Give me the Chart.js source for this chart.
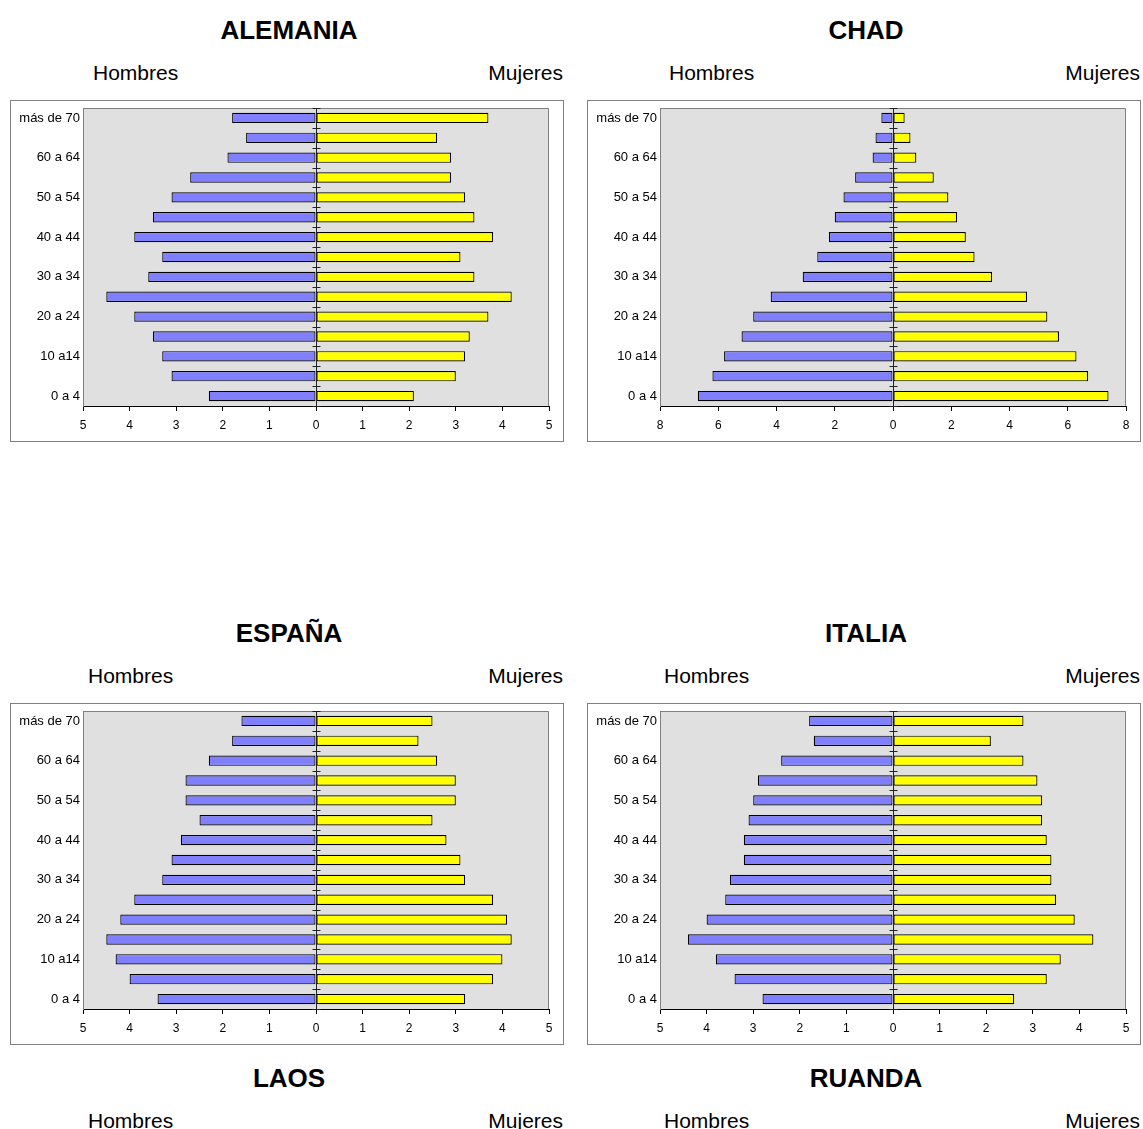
<!DOCTYPE html>
<html>
<head>
<meta charset="utf-8">
<script src="https://cdn.jsdelivr.net/npm/chart.js@4"></script>
<style>
    body { margin: 0; background: #fff; font-family: "Liberation Sans", Arial, sans-serif; }
    .page { position: relative; width: 1143px; height: 1129px; overflow: hidden; }
    .titulo { position: absolute; width: 554px; text-align: center; font-weight: bold; font-size: 26px; line-height: 30px; }
    .sexo { position: absolute; font-size: 21px; line-height: 24px; }
    .caja { position: absolute; width: 554px; height: 342px; box-sizing: border-box; border: 1px solid #808080; }
    .caja canvas { display: block; }
</style>
</head>
<body>
<div class="page" id="page"></div>
<script>
    // grupos de edad (de abajo hacia arriba)
    const grupos = ['0 a 4', '5 a 9', '10 a14', '15 a 19', '20 a 24', '25 a 29', '30 a 34', '35 a 39',
        '40 a 44', '45 a 49', '50 a 54', '55 a 59', '60 a 64', '65 a 69', 'más de 70'];

    const alemaniaHombres = [2.3, 3.1, 3.3, 3.5, 3.9, 4.5, 3.6, 3.3, 3.9, 3.5, 3.1, 2.7, 1.9, 1.5, 1.8];
    const alemaniaMujeres = [2.1, 3.0, 3.2, 3.3, 3.7, 4.2, 3.4, 3.1, 3.8, 3.4, 3.2, 2.9, 2.9, 2.6, 3.7];

    const chadHombres = [6.7, 6.2, 5.8, 5.2, 4.8, 4.2, 3.1, 2.6, 2.2, 2.0, 1.7, 1.3, 0.7, 0.6, 0.4];
    const chadMujeres = [7.4, 6.7, 6.3, 5.7, 5.3, 4.6, 3.4, 2.8, 2.5, 2.2, 1.9, 1.4, 0.8, 0.6, 0.4];

    const espanaHombres = [3.4, 4.0, 4.3, 4.5, 4.2, 3.9, 3.3, 3.1, 2.9, 2.5, 2.8, 2.8, 2.3, 1.8, 1.6];
    const espanaMujeres = [3.2, 3.8, 4.0, 4.2, 4.1, 3.8, 3.2, 3.1, 2.8, 2.5, 3.0, 3.0, 2.6, 2.2, 2.5];

    const italiaHombres = [2.8, 3.4, 3.8, 4.4, 4.0, 3.6, 3.5, 3.2, 3.2, 3.1, 3.0, 2.9, 2.4, 1.7, 1.8];
    const italiaMujeres = [2.6, 3.3, 3.6, 4.3, 3.9, 3.5, 3.4, 3.4, 3.3, 3.2, 3.2, 3.1, 2.8, 2.1, 2.8];

    // marcas del eje x (los valores negativos son los hombres)
    const marcas5 = [-5, -4, -3, -2, -1, 0, 1, 2, 3, 4, 5];
    const marcas8 = [-8, -6, -4, -2, 0, 2, 4, 6, 8];

    const paises = [
        { nombre: 'ALEMANIA', hombres: alemaniaHombres, mujeres: alemaniaMujeres, marcas: marcas5, x: 10, y: 0, h: 83 },
        { nombre: 'CHAD', hombres: chadHombres, mujeres: chadMujeres, marcas: marcas8, x: 587, y: 0, h: 82 },
        { nombre: 'ESPAÑA', hombres: espanaHombres, mujeres: espanaMujeres, marcas: marcas5, x: 10, y: 603, h: 78 },
        { nombre: 'ITALIA', hombres: italiaHombres, mujeres: italiaMujeres, marcas: marcas5, x: 587, y: 603, h: 77 },
        { nombre: 'LAOS', x: 10, y: 1048, h: 78 },
        { nombre: 'RUANDA', x: 587, y: 1048, h: 77 }
    ];

    const page = document.getElementById('page');

    function texto(cls, txt, left, top, extra) {
        const d = document.createElement('div');
        d.className = cls;
        d.textContent = txt;
        d.style.left = left + 'px';
        d.style.top = top + 'px';
        if (extra) Object.assign(d.style, extra);
        page.appendChild(d);
        return d;
    }

    // fondo gris del area de trazado y linea central con sus marcas
    const piramidePlugin = {
        id: 'piramide',
        beforeDraw(chart) {
            const a = chart.chartArea;
            const ctx = chart.ctx;
            ctx.save();
            ctx.fillStyle = '#e0e0e0';
            ctx.fillRect(a.left, a.top, a.right - a.left, a.bottom - a.top);
            ctx.strokeStyle = '#808080';
            ctx.lineWidth = 1;
            ctx.beginPath();
            ctx.moveTo(a.left, a.top + 0.5);
            ctx.lineTo(a.right - 0.5, a.top + 0.5);
            ctx.lineTo(a.right - 0.5, a.bottom);
            ctx.stroke();
            ctx.restore();
        },
        afterDatasetsDraw(chart) {
            const a = chart.chartArea;
            const ctx = chart.ctx;
            const x0 = Math.round(chart.scales.x.getPixelForValue(0)) + 0.5;
            const ys = chart.scales.y;
            ctx.save();
            ctx.strokeStyle = '#222';
            ctx.lineWidth = 1;
            ctx.beginPath();
            ctx.moveTo(x0, a.top);
            ctx.lineTo(x0, a.bottom);
            for (let i = 0; i <= grupos.length; i++) {
                const yy = Math.round(ys.getPixelForValue(i - 0.5)) + 0.5;
                ctx.moveTo(x0 - 4, yy);
                ctx.lineTo(x0 + 4, yy);
            }
            ctx.stroke();
            ctx.restore();
        }
    };

    paises.forEach(p => {
        texto('titulo', p.nombre, p.x + 2, p.y + 15);
        texto('sexo', 'Hombres', p.x + p.h, p.y + 61);
        texto('sexo', 'Mujeres', p.x + 553 - 130, p.y + 61, { width: '130px', textAlign: 'right' });

        if (!p.hombres) return;

        const caja = document.createElement('div');
        caja.className = 'caja';
        caja.style.left = p.x + 'px';
        caja.style.top = (p.y + 100) + 'px';
        const canvas = document.createElement('canvas');
        canvas.width = 552;
        canvas.height = 340;
        caja.appendChild(canvas);
        page.appendChild(caja);

        const tope = p.marcas[p.marcas.length - 1];

        new Chart(canvas.getContext('2d'), {
            type: 'bar',
            data: {
                labels: grupos,
                datasets: [
                    {
                        label: 'Hombres',
                        data: p.hombres.map(v => -v),
                        backgroundColor: '#8080ff',
                        borderColor: '#000',
                        borderWidth: 1.2,
                        borderSkipped: false,
                        barPercentage: 0.52,
                        categoryPercentage: 1
                    },
                    {
                        label: 'Mujeres',
                        data: p.mujeres,
                        backgroundColor: '#ffff00',
                        borderColor: '#000',
                        borderWidth: 1.2,
                        borderSkipped: false,
                        barPercentage: 0.52,
                        categoryPercentage: 1
                    }
                ]
            },
            options: {
                indexAxis: 'y',
                responsive: false,
                animation: false,
                layout: { padding: { left: 0, right: 14, top: 7, bottom: 0 } },
                plugins: {
                    legend: { display: false },
                    tooltip: { enabled: false }
                },
                scales: {
                    x: {
                        stacked: true,
                        min: -tope,
                        max: tope,
                        afterBuildTicks: axis => { axis.ticks = p.marcas.map(v => ({ value: v })); },
                        afterFit: axis => { axis.height = 35; axis.paddingLeft = 0; axis.paddingRight = 0; },
                        grid: { drawOnChartArea: false, drawTicks: true, tickLength: 5, color: '#000' },
                        border: { display: true, color: '#000' },
                        ticks: {
                            color: '#000',
                            padding: 7,
                            maxRotation: 0,
                            font: { family: 'Liberation Sans', size: 12 },
                            callback: v => Math.abs(v)
                        }
                    },
                    y: {
                        stacked: true,
                        reverse: true,
                        afterFit: axis => { axis.width = 72; axis.paddingTop = 0; axis.paddingBottom = 0; },
                        grid: { drawOnChartArea: false, drawTicks: false },
                        border: { display: true, color: '#808080' },
                        ticks: {
                            color: '#000',
                            padding: 3,
                            autoSkip: false,
                            font: { family: 'Liberation Sans', size: 13 },
                            callback: (v, i) => (i % 2 === 0 ? grupos[i] : '')
                        }
                    }
                }
            },
            plugins: [piramidePlugin]
        });
    });
</script>
</body>
</html>
